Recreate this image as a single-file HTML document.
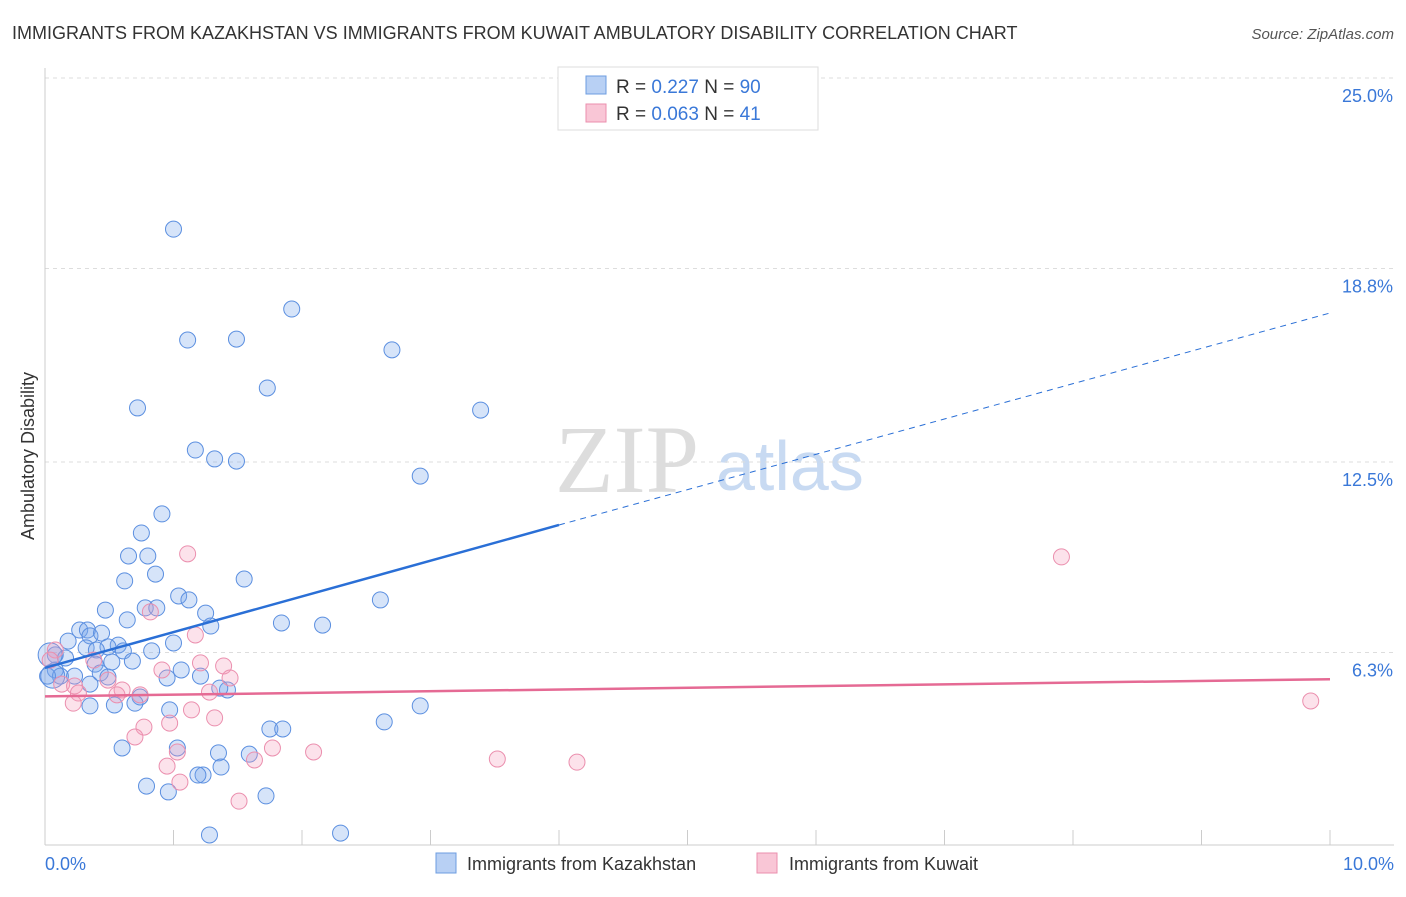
<!DOCTYPE html>
<html><head><meta charset="utf-8"><style>
body{margin:0;background:#fff;font-family:"Liberation Sans",sans-serif}
</style></head><body>
<svg id="chart" width="1406" height="892" xmlns="http://www.w3.org/2000/svg" font-family="Liberation Sans, sans-serif">
<text x="12" y="39" font-size="18" fill="#333">IMMIGRANTS FROM KAZAKHSTAN VS IMMIGRANTS FROM KUWAIT AMBULATORY DISABILITY CORRELATION CHART</text>
<text x="1394" y="39" font-size="15" fill="#555" font-style="italic" text-anchor="end">Source: ZipAtlas.com</text>
<text x="555" y="492" font-size="96" fill="#ddd" font-family="Liberation Serif, serif">ZIP</text>
<text x="716" y="490" font-size="70" fill="#c8daf2">atlas</text>
<g id="grid"></g>
<line x1="45" y1="845" x2="1394" y2="845" stroke="#ccc"/>
<line x1="45" y1="68" x2="45" y2="845" stroke="#ccc"/>
<text transform="translate(34,456) rotate(-90)" font-size="18" fill="#333" text-anchor="middle">Ambulatory Disability</text>
<text x="45" y="870" font-size="18" fill="#3a78d8">0.0%</text>
<text x="1394" y="870" font-size="18" fill="#3a78d8" text-anchor="end">10.0%</text>
<g id="pts"></g>
<g id="lines"></g>
<g>
<rect x="558" y="67" width="260" height="63" fill="#fff" stroke="#ddd"/>
<rect x="586" y="76" width="20" height="18" fill="#b8d0f4" stroke="#6d9de0"/>
<rect x="586" y="104" width="20" height="18" fill="#f9c6d6" stroke="#eb8fae"/>
<text x="616" y="93" font-size="19" fill="#333">R = <tspan fill="#3a78d8">0.227</tspan>   N = <tspan fill="#3a78d8">90</tspan></text>
<text x="616" y="120" font-size="19" fill="#333">R = <tspan fill="#3a78d8">0.063</tspan>   N =  <tspan fill="#3a78d8">41</tspan></text>
</g>
<g>
<rect x="436" y="853" width="20" height="20" fill="#b8d0f4" stroke="#6d9de0"/>
<text x="467" y="870" font-size="18" fill="#333">Immigrants from Kazakhstan</text>
<rect x="757" y="853" width="20" height="20" fill="#f9c6d6" stroke="#eb8fae"/>
<text x="789" y="870" font-size="18" fill="#333">Immigrants from Kuwait</text>
</g>
</svg>
<script>
const yTicks=[6.3,12.5,18.8,25.0];
const yTickLabels=["6.3%","12.5%","18.8%","25.0%"];
const blueX=[1.00,1.92,1.11,1.49,2.70,1.73,0.72,3.39,1.17,1.32,1.49,2.92,0.91,0.75,0.65,0.80,0.86,0.62,1.55,1.04,1.12,2.61,0.47,0.78,0.87,1.25,0.64,1.84,2.16,1.29,0.27,0.33,0.35,0.44,0.18,0.57,0.49,1.00,0.32,0.40,0.61,0.83,0.08,0.16,0.68,0.52,0.39,1.06,0.08,0.43,0.12,0.23,0.02,0.95,1.21,0.49,0.35,1.42,1.36,0.74,0.70,0.54,0.35,0.97,2.92,2.64,1.75,1.85,0.60,1.03,1.35,1.59,1.37,1.23,1.19,0.79,0.96,1.72,1.28,2.30,0.04,0.06];
const blueY=[20.08,17.48,16.47,16.50,16.15,14.91,14.26,14.19,12.89,12.60,12.53,12.04,10.81,10.19,9.44,9.44,8.85,8.63,8.69,8.14,8.01,8.01,7.68,7.75,7.75,7.58,7.36,7.26,7.19,7.16,7.03,7.03,6.84,6.93,6.67,6.54,6.48,6.61,6.45,6.38,6.35,6.35,6.22,6.12,6.02,5.99,5.92,5.73,5.73,5.63,5.53,5.53,5.53,5.47,5.53,5.50,5.27,5.08,5.14,4.85,4.65,4.59,4.56,4.43,4.56,4.04,3.81,3.81,3.19,3.19,3.03,2.99,2.57,2.31,2.31,1.95,1.76,1.63,0.36,0.42,6.22,5.53];
const pinkX=[1.11,7.91,0.82,1.17,0.08,0.38,1.21,1.39,0.91,1.44,0.49,0.13,0.23,0.60,0.26,0.56,0.74,1.28,0.22,1.14,1.32,0.77,0.97,0.70,1.03,1.77,2.09,0.95,1.63,3.52,4.14,1.05,1.51,9.85,0.04];
const pinkY=[9.51,9.41,7.62,6.87,6.38,6.05,5.96,5.86,5.73,5.47,5.40,5.27,5.21,5.08,4.98,4.92,4.92,5.01,4.65,4.43,4.17,3.87,4.00,3.55,3.06,3.19,3.06,2.60,2.80,2.83,2.73,2.08,1.46,4.72,6.05];
const blueTrend=[5.8,10.45,17.35];
const pinkTrend=[4.87,5.43];
const X=v=>45+v*128.5, Y=v=>846-v*30.72;
const NS="http://www.w3.org/2000/svg";
function mk(t,a,p){const e=document.createElementNS(NS,t);for(const k in a)e.setAttribute(k,a[k]);p.appendChild(e);return e;}
const grid=document.getElementById('grid');
yTicks.forEach((t,i)=>{const yy=i==3?78:Y(t);
const l=mk('line',{x1:45,x2:1394,y1:yy,y2:yy,stroke:'#ddd','stroke-dasharray':'4,4'},grid);


const tx=mk('text',{x:1393,y:yy+24,'font-size':18,fill:'#3a78d8','text-anchor':'end'},grid);tx.textContent=yTickLabels[i];

});
for(let i=1;i<=10;i++){const l=mk('line',{x1:X(i),x2:X(i),y1:830,y2:845,stroke:'#ccc'},grid);

}
const pts=document.getElementById('pts');
blueX.forEach((x,i)=>{const big=i>=80;const c=mk('circle',{cx:X(x),cy:Y(blueY[i]),r:big?12:8,fill:'rgba(120,165,235,0.3)',stroke:'#5b8fe0','stroke-width':1},pts);

});
pinkX.forEach((x,i)=>{const c=mk('circle',{cx:X(x),cy:Y(pinkY[i]),r:8,fill:'rgba(245,160,190,0.3)',stroke:'#eb8fae','stroke-width':1},pts);

});
const ln=document.getElementById('lines');
let a=mk('line',{x1:X(0),y1:Y(blueTrend[0]),x2:X(4),y2:Y(blueTrend[1]),stroke:'#2a6fd6','stroke-width':2.5},ln);


a=mk('line',{x1:X(4),y1:Y(blueTrend[1]),x2:X(10),y2:Y(blueTrend[2]),stroke:'#2a6fd6','stroke-width':1,'stroke-dasharray':'6,5'},ln);


a=mk('line',{x1:X(0),y1:Y(pinkTrend[0]),x2:X(10),y2:Y(pinkTrend[1]),stroke:'#e56a94','stroke-width':2.5},ln);


</script>
</body></html>
